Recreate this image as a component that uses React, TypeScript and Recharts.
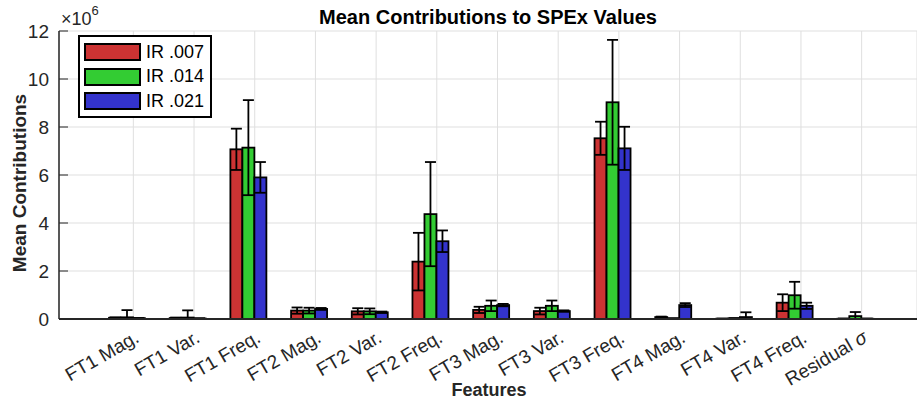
import React from "react";
import { BarChart, Bar, XAxis, YAxis, CartesianGrid } from "recharts";

const features = [
  "FT1 Mag.",
  "FT1 Var.",
  "FT1 Freq.",
  "FT2 Mag.",
  "FT2 Var.",
  "FT2 Freq.",
  "FT3 Mag.",
  "FT3 Var.",
  "FT3 Freq.",
  "FT4 Mag.",
  "FT4 Var.",
  "FT4 Freq.",
  "Residual σ",
];

// mean contributions, in units of 1e6
const ir007 = [0.05, 0.04, 7.07, 0.35, 0.32, 2.39, 0.38, 0.33, 7.53, 0.08, 0.01, 0.68, 0.01];
const ir014 = [0.07, 0.06, 7.14, 0.35, 0.32, 4.37, 0.55, 0.55, 9.03, 0.02, 0.02, 0.99, 0.12];
const ir021 = [0.03, 0.02, 5.9, 0.42, 0.28, 3.24, 0.58, 0.33, 7.11, 0.58, 0.08, 0.55, 0.01];

// symmetric error half-widths
const err007 = [0.02, 0.02, 0.86, 0.13, 0.13, 1.2, 0.13, 0.14, 0.69, 0.02, 0.01, 0.35, 0.01];
const err014 = [0.3, 0.3, 1.98, 0.12, 0.12, 2.17, 0.22, 0.22, 2.6, 0.01, 0.02, 0.56, 0.17];
const err021 = [0.01, 0.01, 0.64, 0.04, 0.03, 0.45, 0.05, 0.03, 0.9, 0.08, 0.2, 0.13, 0.01];

const yTicks = [0, 2, 4, 6, 8, 10, 12];

const series = [
  { key: "ir007", err: "err007", name: "IR .007", color: "#CC3333" },
  { key: "ir014", err: "err014", name: "IR .014", color: "#33CC33" },
  { key: "ir021", err: "err021", name: "IR .021", color: "#3333CC" },
];

const data = features.map((f, i) => ({
  feature: f,
  ir007: ir007[i],
  ir014: ir014[i],
  ir021: ir021[i],
  err007: err007[i],
  err014: err014[i],
  err021: err021[i],
}));

const FONT = '"Liberation Sans", Arial, Helvetica, sans-serif';
const AXIS = "#262626";
const LINE = 1.8;

// bar plus its error whisker; the whisker length uses the same px/unit as the bar
// and the lower half is cut at the axis (ylim starts at 0 in the source)
function WhiskerBar(props: any) {
  const { x, y, width, height, fill, payload, valueKey, errKey } = props;
  const v = payload[valueKey];
  const e = payload[errKey];
  const k = v > 0 ? height / v : 0;
  const cx = x + width / 2;
  const top = y - e * k;
  const bottom = y + Math.min(e, v) * k;
  const half = 5.5;
  return (
    <g>
      <rect x={x} y={y} width={width} height={height} fill={fill} stroke="#000" strokeWidth={LINE} />
      <line x1={cx} x2={cx} y1={top} y2={bottom} stroke="#000" strokeWidth={LINE} />
      <line x1={cx - half} x2={cx + half} y1={top} y2={top} stroke="#000" strokeWidth={LINE} />
      <line x1={cx - half} x2={cx + half} y1={bottom} y2={bottom} stroke="#000" strokeWidth={LINE} />
    </g>
  );
}

function FeatureTick(props: any) {
  const { x, y, payload } = props;
  const ax = x + 7;
  const ay = y + 22;
  const label: string = payload.value;
  const isSigma = label.endsWith("σ");
  return (
    <text
      x={ax}
      y={ay}
      transform={`rotate(-30 ${ax} ${ay})`}
      textAnchor="end"
      fontSize={19}
      fontFamily={FONT}
      fill={AXIS}
    >
      {isSigma ? (
        <>
          {label.slice(0, -1)}
          <tspan fontStyle="italic">σ</tspan>
        </>
      ) : (
        label
      )}
    </text>
  );
}

function ValueTick(props: any) {
  const { x, y, payload } = props;
  return (
    <g>
      <line x1={x + 10} x2={x + 19} y1={y} y2={y} stroke={AXIS} strokeWidth={1} />
      <text
        x={x}
        y={y}
        dy="0.35em"
        textAnchor="end"
        fontSize={19}
        fontFamily={FONT}
        fill={AXIS}
      >
        {payload.value}
      </text>
    </g>
  );
}

function LegendBox() {
  return (
    <div
      style={{
        position: "absolute",
        left: 78,
        top: 35,
        background: "#fff",
        border: "2px solid #000",
        padding: "3px 6px 2px 4px",
        fontFamily: FONT,
        fontSize: 18,
        color: "#000",
      }}
    >
      {series.map((s) => (
        <div
          key={s.key}
          style={{ display: "flex", alignItems: "center", height: 24.5 }}
        >
          <div
            style={{
              width: 57,
              height: 18,
              boxSizing: "border-box",
              border: "2px solid #000",
              background: s.color,
              marginRight: 5,
            }}
          />
          <span>{s.name}</span>
        </div>
      ))}
    </div>
  );
}

export default function App() {
  return (
    <div style={{ position: "relative", width: 917, height: 406, background: "#fff" }}>
      <style>{"body{margin:0}"}</style>
      <BarChart
        width={917}
        height={406}
        data={data}
        margin={{ top: 31, right: 0, bottom: 0, left: 0 }}
        barGap={0}
        style={{ fontFamily: FONT }}
      >
        <CartesianGrid stroke="#dfdfdf" strokeWidth={1} />
        <XAxis
          dataKey="feature"
          interval={0}
          height={87}
          padding={{ left: 44, right: 25 }}
          tickSize={0}
          tickMargin={0}
          tickLine={false}
          axisLine={{ stroke: AXIS, strokeWidth: 1.8 }}
          tick={<FeatureTick />}
        />
        <YAxis
          width={59}
          domain={[0, 12]}
          allowDataOverflow
          ticks={yTicks}
          interval={0}
          tickSize={0}
          tickMargin={10}
          tickLine={false}
          axisLine={{ stroke: AXIS, strokeWidth: 1.5 }}
          tick={<ValueTick />}
        />
        {series.map((s) => (
          <Bar
            key={s.key}
            dataKey={s.key}
            name={s.name}
            fill={s.color}
            barSize={12}
            isAnimationActive={false}
            shape={(p: any) => <WhiskerBar {...p} valueKey={s.key} errKey={s.err} />}
          />
        ))}
        {/* empty slot after the three series: the group sits left of the tick, as in the source */}
        <Bar dataKey="slot" barSize={12} fill="none" stroke="none" isAnimationActive={false} />
      </BarChart>
      <LegendBox />
      <svg
        width={917}
        height={406}
        style={{ position: "absolute", left: 0, top: 0, pointerEvents: "none" }}
      >
        <text
          x={488}
          y={24}
          textAnchor="middle"
          fontSize={20}
          fontWeight="bold"
          fontFamily={FONT}
          fill="#000"
        >
          Mean Contributions to SPEx Values
        </text>
        <text x={61} y={25} fontSize={18} fontFamily={FONT} fill={AXIS}>
          ×10
          <tspan fontSize={13} dy={-10}>
            6
          </tspan>
        </text>
        <text
          x={26}
          y={183}
          transform="rotate(-90 26 183)"
          textAnchor="middle"
          fontSize={19}
          fontWeight="bold"
          fontFamily={FONT}
          fill={AXIS}
        >
          Mean Contributions
        </text>
        <text
          x={489}
          y={396}
          textAnchor="middle"
          fontSize={18}
          fontWeight="bold"
          fontFamily={FONT}
          fill={AXIS}
        >
          Features
        </text>
      </svg>
    </div>
  );
}
